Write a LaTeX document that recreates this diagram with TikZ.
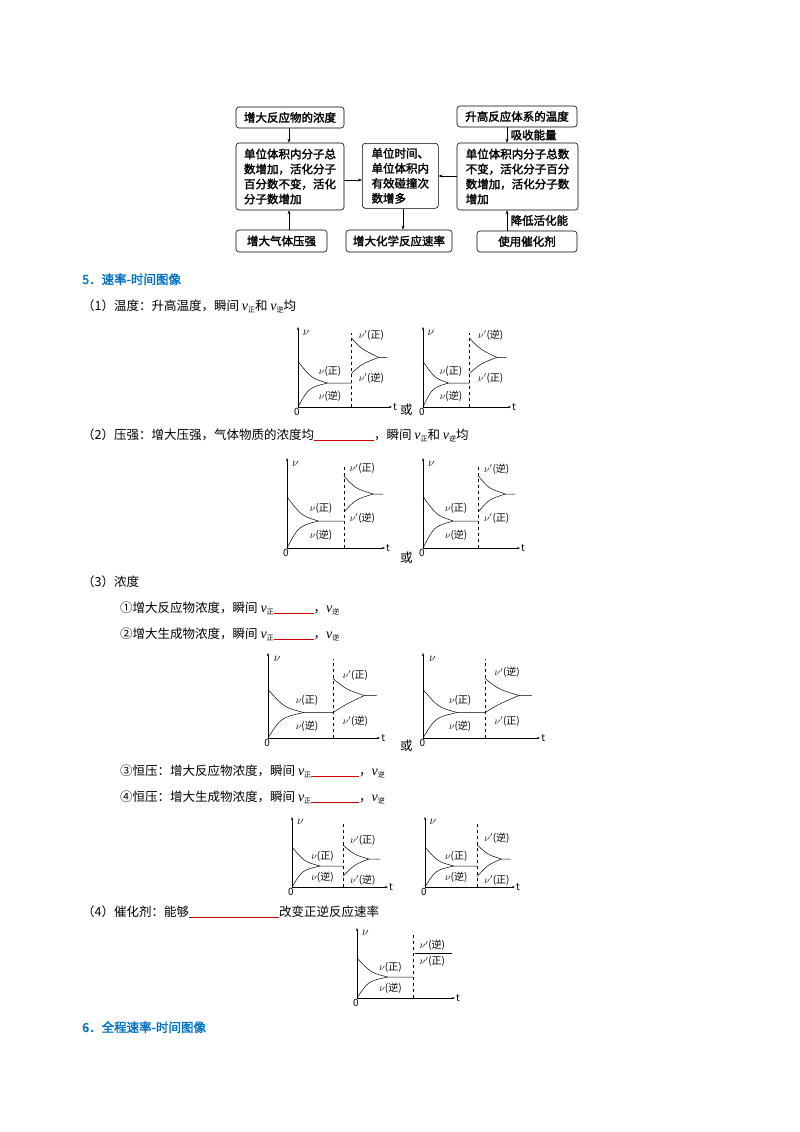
\documentclass[tikz,border=0pt]{standalone}
\usepackage{fontspec}
\setmainfont{Liberation Serif}
\newfontfamily\cjk{Noto Sans CJK SC}
\newfontfamily\cjkb{Noto Sans CJK SC}[FakeBold=2]
\XeTeXlinebreaklocale "zh"
\XeTeXlinebreakskip=0pt plus 1pt
\usetikzlibrary{arrows.meta}
\definecolor{hblue}{RGB}{0,112,192}
\tikzset{
 fbox/.style={draw,rounded corners=3pt,line width=0.6pt,font=\cjkb\fontsize{11.5}{15}\selectfont,align=left,inner sep=2pt},
 farr/.style={-{Stealth[length=4pt]},line width=0.6pt},
 txt/.style={anchor=base west,font=\cjk\fontsize{12.5}{14}\selectfont,inner sep=0},
 lab/.style={font=\cjk\fontsize{10}{11}\selectfont,inner sep=0},
 ax/.style={-{Stealth[length=3pt]},line width=0.5pt},
 cv/.style={line width=0.5pt}
}
\newcommand\vz{$\nu$(正)}
\newcommand\vn{$\nu$(逆)}
\newcommand\pz{$\nu'$(正)}
\newcommand\pn{$\nu'$(逆)}
\newcommand\sz{\raisebox{-2pt}{\fontsize{7}{8}\selectfont 正}}
\newcommand\sn{\raisebox{-2pt}{\fontsize{7}{8}\selectfont 逆}}
\newcommand\vi{{\rmfamily\itshape\fontsize{14}{14}\selectfont v}}
\newcommand\blank[1]{\textcolor{red!80!black}{\rule[-2pt]{#1}{0.6pt}}}
\newcommand\vg[6]{%
\begin{scope}[shift={(#1,#2)},x=#3pt,y=#4pt]
 \draw[ax] (0,0)--(0,1);
 \draw[ax] (0,0)--(1,0);
 \node[lab,anchor=west,font=\fontsize{12}{12}\selectfont] at (0.05,0.93) {$\nu$};
 \node[lab,anchor=west] at (1.01,0) {t};
 \node[lab,anchor=north east] at (0.02,-0.01) {0};
 \draw[cv] (0,0.57) .. controls ({0.25*#5},0.36) .. ({0.55*#5},0.3) -- (#5,0.3);
 \draw[cv] (0,0) .. controls ({0.2*#5},0.24) .. ({0.55*#5},0.3);
 \node[lab] at ({0.6*#5},0.44) {\vz};
 \node[lab] at ({0.6*#5},0.14) {\vn};
 \draw[cv,dashed] (#5,0)--(#5,0.93);
 #6
\end{scope}}
\begin{document}
\begin{tikzpicture}[x=1pt,y=-1pt]
\useasboundingbox[fill=white] (0,0) rectangle (800,1132);
\node[fbox,minimum width=108pt,minimum height=21pt,align=center] (A) at (290,117.5) {增大反应物的浓度};
\node[fbox,minimum width=108pt,minimum height=67pt] (B) at (290,176.5) {单位体积内分子总\\数增加，活化分子\\百分数不变，活化\\分子数增加};
\node[fbox,minimum width=76pt,minimum height=65pt,anchor=north west] (C) at (362,143) {单位时间、\\单位体积内\\有效碰撞次\\数增多};
\node[fbox,minimum width=121pt,minimum height=67pt] (D) at (517.5,176.5) {单位体积内分子总数\\不变，活化分子百分\\数增加，活化分子数\\增加};
\node[fbox,minimum width=120pt,minimum height=21pt,align=center] (E) at (517,116.5) {升高反应体系的温度};
\node[fbox,minimum width=91pt,minimum height=22pt,align=center] (F) at (281.5,241) {增大气体压强};
\node[fbox,minimum width=106pt,minimum height=22pt,align=center] (G) at (399,241) {增大化学反应速率};
\node[fbox,minimum width=100pt,minimum height=21pt,align=center] (H) at (527,241.5) {使用催化剂};
\draw[farr] (A.south -| 289,0) -- (B.north -| 289,0);
\draw[farr] (F.north -| 289,0) -- (B.south -| 289,0);
\draw[farr] (B.east |- 0,180) -- (C.west |- 0,180);
\draw[farr] (D.west |- 0,176) -- (C.east |- 0,176);
\draw[farr] (C.south -| 403,0) -- (G.north -| 403,0);
\draw[farr] (E.south -| 507,0) -- (D.north -| 507,0) node[midway,right,font=\cjkb\fontsize{11.5}{12}\selectfont] {吸收能量};
\draw[farr] (H.north -| 507,0) -- (D.south -| 507,0) node[midway,right,font=\cjkb\fontsize{11.5}{12}\selectfont] {降低活化能};
\node[txt,font=\cjkb\fontsize{12.5}{14}\selectfont,text=hblue] (h5) at (82,284) {5．速率-时间图像};
\node[txt] (t1) at (82,310) {（1）温度：升高温度，瞬间 \vi\sz 和 \vi\sn 均};
\node[txt] (t2) at (82,439) {（2）压强：增大压强，气体物质的浓度均\blank{60pt}，瞬间 \vi\sz 和 \vi\sn 均};
\node[txt] (t3) at (82,586) {（3）浓度};
\node[txt] (t31) at (120,612) {①增大反应物浓度，瞬间 \vi\sz\blank{40pt}，\vi\sn};
\node[txt] (t32) at (120,638) {②增大生成物浓度，瞬间 \vi\sz\blank{40pt}，\vi\sn};
\node[txt] (t33) at (120,775) {③恒压：增大反应物浓度，瞬间 \vi\sz\blank{48pt}，\vi\sn};
\node[txt] (t34) at (120,801) {④恒压：增大生成物浓度，瞬间 \vi\sz\blank{48pt}，\vi\sn};
\node[txt] (t4) at (82,916) {（4）催化剂：能够\blank{90pt}改变正逆反应速率};
\node[txt,font=\cjkb\fontsize{12.5}{14}\selectfont,text=hblue] (h6) at (82,1032) {6．全程速率-时间图像};
\node[txt] (o1) at (400,414) {或};
\node[txt] (o2) at (400,562) {或};
\node[txt] (o3) at (400,750) {或};
\vg{298}{407}{94}{80}{0.57}{%
 \draw[cv] (0.57,0.86) .. controls (0.68,0.72) .. (0.86,0.62) -- (0.95,0.62);
 \draw[cv] (0.57,0.42) .. controls (0.68,0.54) .. (0.86,0.62);
 \node[lab] at (0.78,0.9) {\pz}; \node[lab] at (0.78,0.36) {\pn};}
\vg{423}{407}{88}{80}{0.53}{%
 \draw[cv] (0.53,0.86) .. controls (0.65,0.72) .. (0.84,0.62) -- (0.95,0.62);
 \draw[cv] (0.53,0.42) .. controls (0.65,0.54) .. (0.84,0.62);
 \node[lab] at (0.77,0.9) {\pn}; \node[lab] at (0.77,0.36) {\pz};}
\vg{287}{548}{98}{90}{0.58}{%
 \draw[cv] (0.58,0.8) .. controls (0.7,0.66) .. (0.88,0.6) -- (0.98,0.6);
 \draw[cv] (0.58,0.4) .. controls (0.7,0.54) .. (0.88,0.6);
 \node[lab] at (0.77,0.88) {\pz}; \node[lab] at (0.77,0.33) {\pn};}
\vg{423}{548}{97}{90}{0.57}{%
 \draw[cv] (0.57,0.8) .. controls (0.68,0.66) .. (0.85,0.6) -- (0.95,0.6);
 \draw[cv] (0.57,0.4) .. controls (0.68,0.54) .. (0.85,0.6);
 \node[lab] at (0.76,0.88) {\pn}; \node[lab] at (0.76,0.33) {\pz};}
\vg{268}{738}{112}{85}{0.58}{%
 \draw[cv] (0.58,0.7) .. controls (0.7,0.57) .. (0.86,0.5) -- (0.97,0.5);
 \draw[cv] (0.58,0.3) .. controls (0.7,0.4) .. (0.86,0.5);
 \node[lab] at (0.78,0.74) {\pz}; \node[lab] at (0.78,0.2) {\pn};}
\vg{423}{738}{117}{85}{0.53}{%
 \draw[cv] (0.53,0.7) .. controls (0.65,0.57) .. (0.82,0.5) -- (0.93,0.5);
 \draw[cv] (0.53,0.3) .. controls (0.65,0.4) .. (0.82,0.5);
 \node[lab] at (0.72,0.77) {\pn}; \node[lab] at (0.72,0.2) {\pz};}
\vg{292}{887}{96}{70}{0.53}{%
 \draw[cv] (0.53,0.6) .. controls (0.65,0.46) .. (0.8,0.4) -- (0.92,0.4);
 \draw[cv] (0.53,0.15) .. controls (0.65,0.32) .. (0.8,0.4);
 \node[lab] at (0.74,0.66) {\pz}; \node[lab] at (0.74,0.1) {\pn};}
\vg{425}{887}{90}{70}{0.58}{%
 \draw[cv] (0.58,0.6) .. controls (0.7,0.46) .. (0.85,0.4) -- (0.95,0.4);
 \draw[cv] (0.58,0.15) .. controls (0.7,0.32) .. (0.85,0.4);
 \node[lab] at (0.8,0.7) {\pn}; \node[lab] at (0.8,0.1) {\pz};}
\vg{357}{998}{98}{70}{0.57}{%
 \draw[cv] (0.59,0.64) -- (0.97,0.64);
 \node[lab] at (0.77,0.75) {\pn}; \node[lab] at (0.77,0.52) {\pz};}
\end{tikzpicture}
\end{document}
